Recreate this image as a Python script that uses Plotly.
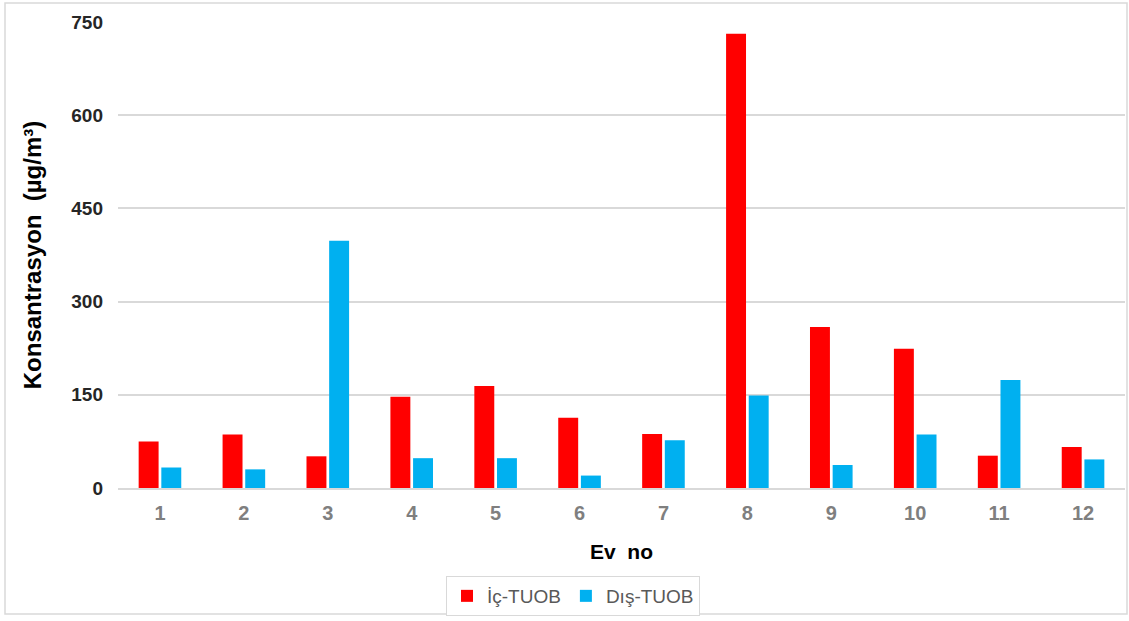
import plotly.graph_objects as go

categories = ["1", "2", "3", "4", "5", "6", "7", "8", "9", "10", "11", "12"]
ic_tuob = [75, 86, 51, 147, 164, 113, 87, 731, 259, 224, 52, 66]
dis_tuob = [33, 30, 398, 48, 48, 20, 77, 149, 37, 86, 174, 46]
y_ticks = [0, 150, 300, 450, 600, 750]

FONT = "Liberation Sans, Arial, sans-serif"

fig = go.Figure()
fig.add_trace(go.Bar(x=categories, y=ic_tuob, name="İç-TUOB",
                     marker=dict(color="#FF0000", line=dict(width=0))))
fig.add_trace(go.Bar(x=categories, y=dis_tuob, name="Dış-TUOB",
                     marker=dict(color="#00B0F0", line=dict(width=0))))

L, R, T, B = 118, 4, 22, 133
W, H = 1129, 621
pw = W - L - R
ph = H - T - B

def px_x(x):
    return (x - L) / pw

def px_y(y):
    return (H - B - y) / ph

fig.update_layout(
    width=W, height=H,
    margin=dict(l=L, r=R, t=T, b=B),
    paper_bgcolor="white", plot_bgcolor="white",
    barmode="group", bargap=0.46, bargroupgap=0.12,
    font=dict(family=FONT, size=18, color="#595959"),
    xaxis=dict(
        type="category",
        showgrid=False, showline=True, linecolor="#d9d9d9", linewidth=1.5,
        ticks="", ticklabelstandoff=6,
        tickfont=dict(family=FONT, size=20, color="#7f7f7f", weight="bold"),
        title=dict(text="Ev\u00a0\u00a0no", font=dict(family=FONT, size=21, color="#000000", weight="bold"), standoff=22),
    ),
    yaxis=dict(
        range=[0, 750], tickvals=y_ticks,
        showgrid=True, gridcolor="#d9d9d9", gridwidth=1.5,
        zeroline=False, showline=False, ticks="",
        ticklabelstandoff=14,
        tickfont=dict(family=FONT, size=19, color="#262626", weight="bold"),
        title=dict(text="Konsantrasyon\u00a0\u00a0(µg/m³)", font=dict(family=FONT, size=24, color="#000000", weight="bold"), standoff=22),
    ),
    legend=dict(
        orientation="h", x=px_x(573), xanchor="center", y=px_y(576), yanchor="top",
        bordercolor="#d9d9d9", borderwidth=1, bgcolor="white",
        font=dict(family=FONT, size=19, color="#595959"),
        itemwidth=30,
    ),
    shapes=[dict(type="rect", xref="paper", yref="paper",
                 x0=px_x(5), x1=px_x(1127), y0=px_y(614), y1=px_y(3),
                 line=dict(color="#d9d9d9", width=1.5), layer="below")],
)

fig.write_html("out.html", config={"displayModeBar": False},
               post_script="document.body.style.margin='0';document.body.style.overflow='hidden';")
